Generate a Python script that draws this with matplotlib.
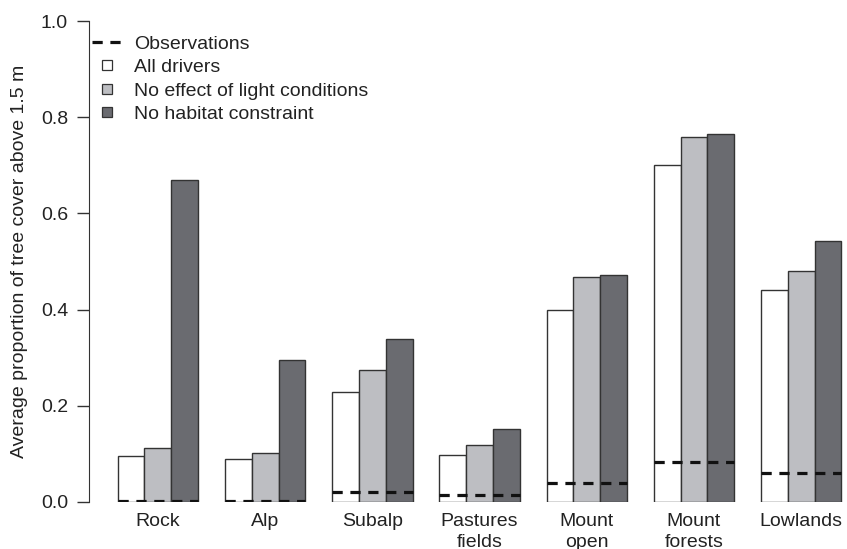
import matplotlib
matplotlib.use("Agg")
import matplotlib.pyplot as plt
from matplotlib.lines import Line2D
import numpy as np

plt.rcParams['font.family'] = ['Liberation Sans', 'DejaVu Sans']

# data
categories = ["Rock", "Alp", "Subalp", "Pastures\nfields", "Mount\nopen", "Mount\nforests", "Lowlands"]
all_drivers = [0.096, 0.090, 0.228, 0.098, 0.399, 0.700, 0.440]
no_light = [0.113, 0.101, 0.275, 0.119, 0.468, 0.758, 0.480]
no_habitat = [0.670, 0.296, 0.338, 0.151, 0.472, 0.765, 0.542]
observations = [0.002, 0.002, 0.020, 0.015, 0.040, 0.083, 0.061]

series_names = ["All drivers", "No effect of light conditions", "No habitat constraint"]
fills = ["#ffffff", "#bdbec2", "#6a6b70"]
edge = "#333333"
txt = "#222222"
fs = 14

fig = plt.figure(figsize=(8.47, 5.49), dpi=100)
ax = fig.add_axes([89 / 847, 47 / 549, (847 - 89) / 847, 481 / 549])

n = len(categories)
starts = 1 + 4 * np.arange(n)  # R barplot style: space = c(0, 1)

for j, vals in enumerate([all_drivers, no_light, no_habitat]):
    ax.bar(starts + j, vals, width=1, align='edge', color=fills[j],
           edgecolor=edge, linewidth=1.0, zorder=2)

ax.hlines(observations, starts, starts + 3, colors="#111111", linewidth=2.3,
          linestyles=(0, (3.2, 2.4)), zorder=3)

ax.set_xlim(-0.07, 28.21)
ax.set_ylim(0, 1.0)

ax.set_xticks(starts + 1.5)
ax.set_xticklabels(categories, fontsize=fs, color=txt, linespacing=1.3, va='top')
ax.tick_params(axis='x', length=0, pad=8)

ax.set_yticks(np.arange(0, 1.01, 0.2))
ax.set_yticklabels([f"{v:.1f}" for v in np.arange(0, 1.01, 0.2)], fontsize=fs, color=txt)
ax.tick_params(axis='y', length=8.6, width=1, color="#333333", pad=6.5)

for s in ["top", "right", "bottom"]:
    ax.spines[s].set_visible(False)
ax.spines["left"].set_bounds(0, 1)
ax.spines["left"].set_color("#333333")

ax.set_ylabel("Average proportion of tree cover above 1.5 m", fontsize=fs, color=txt, labelpad=9)

handles = [Line2D([], [], color="#111111", linewidth=2.3, linestyle=(0, (3.2, 2.4)))]
for f in fills:
    handles.append(Line2D([], [], linestyle='none', marker='s', markersize=7,
                          markerfacecolor=f, markeredgecolor=edge, markeredgewidth=0.9))
ax.legend(handles, ["Observations"] + series_names, loc='upper left',
          bbox_to_anchor=(0.004, 0.97), frameon=False, fontsize=fs,
          handlelength=1.5, handletextpad=0.65, labelspacing=0.29, borderpad=0,
          borderaxespad=0, labelcolor=txt)

fig.savefig("out.png", dpi=100)
